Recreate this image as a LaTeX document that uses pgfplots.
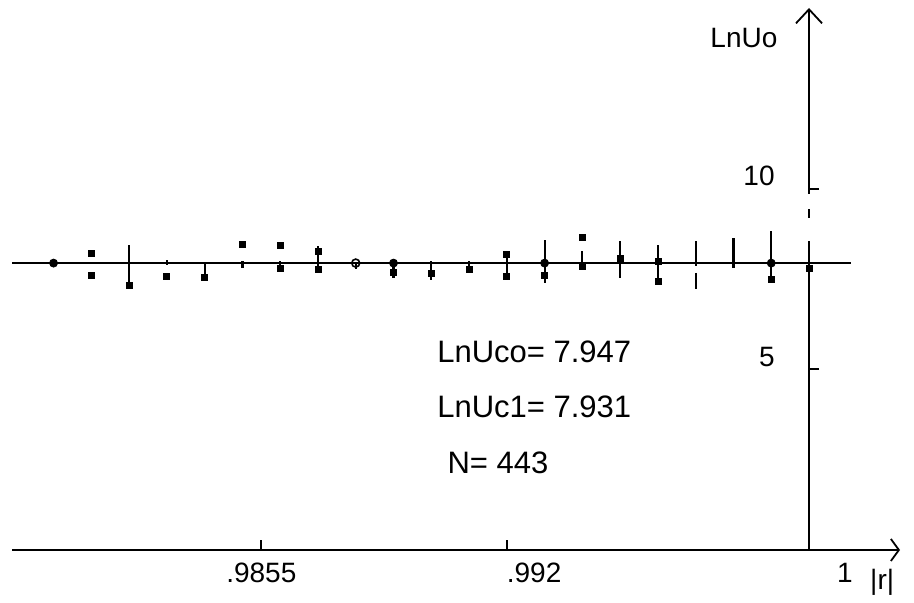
\documentclass[border=0pt]{standalone}
\usepackage{fontspec}
\setmainfont{Liberation Sans}
\usepackage{pgfplots}
\usepackage{pgfplotstable}
\pgfplotsset{compat=1.18}
\usetikzlibrary{arrows.meta}

\pgfplotstableread{
x      y     ep    em
0.980  7.94  0.00  0.00
0.981  7.94  0.00  0.00
0.982  7.94  0.50  0.69
0.983  7.94  0.08  0.05
0.984  7.94  0.00  0.36
0.985  7.94  0.05  0.14
0.986  7.94  0.05  0.19
0.987  7.94  0.47  0.10
0.988  7.94  0.00  0.17
0.989  7.94  0.05  0.41
0.990  7.94  0.05  0.47
0.991  7.94  0.05  0.22
0.992  7.94  0.28  0.47
0.993  7.94  0.64  0.55
0.994  7.94  0.33  0.19
0.995  7.94  0.61  0.41
0.996  7.94  0.50  0.61
0.997  7.94  0.61  0.08
0.998  7.94  0.69  0.14
0.999  7.94  0.88  0.55
1.000  7.94  0.47  0.08
}\points

\pgfplotstableread{
x      y
0.981  8.22
0.981  7.61
0.982  7.33
0.983  7.58
0.984  7.55
0.985  8.46
0.986  8.44
0.986  7.80
0.987  8.27
0.987  7.77
0.989  7.69
0.990  7.66
0.991  7.77
0.992  8.19
0.992  7.58
0.993  7.61
0.994  8.66
0.994  7.86
0.995  8.08
0.996  7.99
0.996  7.44
0.999  7.50
1.000  7.80
}\glyphs

\begin{document}
\begin{tikzpicture}
\begin{axis}[
  scale only axis, width=398.5pt, height=271pt,
  xmin=0.9789, xmax=1, ymin=0, ymax=15,
  axis x line=bottom, axis y line=right,
  clip=false,
  x axis line style={line width=0.9pt, -{Straight Barb[length=4pt,width=11pt,line width=0.9pt]}, shorten >=-45.5pt},
  y axis line style={line width=0.9pt, -{Straight Barb[length=7pt,width=13pt,line width=0.9pt]}},
  xtick={0.9855,0.992,1},
  xticklabels={{.9855},{\makebox[0pt][l]{.992}},{\makebox[0pt][l]{\hspace*{14pt}1}}},
  ytick={5,10},
  tick align=inside,
  major tick length=5pt,
  tick style={line width=0.9pt, black},
  ytick style={xshift=5pt},
  /pgf/number format/assume math mode=true,
  tick label style={font=\fontsize{14}{16}\selectfont},
  xticklabel style={anchor=north, yshift=-3pt},
  yticklabel style={anchor=base east, inner sep=0pt, xshift=-17pt, yshift=1.5pt},
]
% reference level line
\addplot[black, line width=1pt] coordinates {(0.9789,7.94) (1.0011,7.94)};
% points with vertical spread bars
\addplot[draw=none, mark=none,
  error bars/.cd, y dir=both, y explicit,
  error mark=none,
  error bar style={draw=black, solid, line width=1.1pt}]
  table[x=x, y=y, y error plus=ep, y error minus=em] {\points};
% small plotted glyphs
\addplot[only marks, mark=square*, mark size=1.5pt, black] table[x=x,y=y] {\glyphs};
\addplot[only marks, mark=*, mark size=2pt, black] coordinates {(0.980,7.94) (0.993,7.94) (0.999,7.94) (0.989,7.94)};
\addplot[only marks, mark=o, mark size=2pt, black, line width=0.8pt] coordinates {(0.988,7.94)};
\addplot[only marks, mark=|, mark size=4pt, black, line width=0.9pt] coordinates {(1.000,7.25) (0.997,7.45)};
% gap in the vertical axis
\draw[white, line width=3pt] (axis cs:1,8.55) -- (axis cs:1,9.85);
\draw[black, line width=0.9pt] (axis cs:1,9.2) -- (axis cs:1,9.45);
% texts
\node[anchor=base west, inner sep=0pt, font=\fontsize{15.5}{18}\selectfont] at (axis cs:0.99015,5.20) {LnUco=\ 7.947};
\node[anchor=base west, inner sep=0pt, font=\fontsize{15.5}{18}\selectfont] at (axis cs:0.99015,3.68) {LnUc1=\ 7.931};
\node[anchor=base west, inner sep=0pt, font=\fontsize{15.5}{18}\selectfont] at (axis cs:0.99042,2.13) {N=\ 443};
\node[anchor=base west, inner sep=0pt, font=\fontsize{14}{16}\selectfont] at (axis cs:0.99738,13.92) {LnUo};
\node[anchor=base west, inner sep=0pt, font=\fontsize{14}{16}\selectfont] at (axis cs:1.00161,-1.10) {|r|};
\coordinate (bbll) at (rel axis cs:-0.01506,-0.09779);
\coordinate (bbur) at (rel axis cs:1.13174,1.01476);
\end{axis}
\pgfresetboundingbox
\path[use as bounding box] (bbll) rectangle (bbur);
\end{tikzpicture}
\end{document}
